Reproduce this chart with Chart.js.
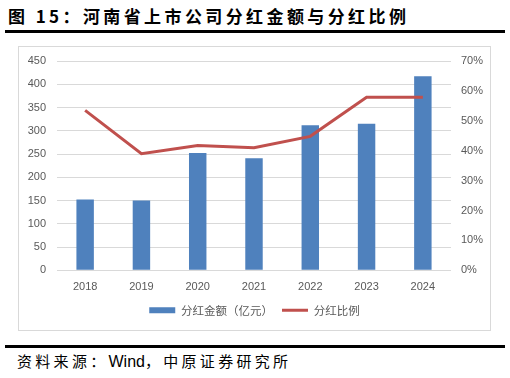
<!DOCTYPE html>
<html>
<head>
<meta charset="utf-8">
<script src="https://cdn.jsdelivr.net/npm/chart.js@4"></script>
<style>
  body { margin: 0; width: 510px; height: 378px; background: #fff; position: relative; overflow: hidden; }
  .title { position: absolute; left: 8px; top: 3px; font: bold 17px "Noto Sans CJK SC", sans-serif; letter-spacing: 3.4px; color: #000; white-space: nowrap; }
  .rule { position: absolute; left: 5px; width: 500px; height: 3px; background: #000; }
  .frame { position: absolute; left: 18px; top: 46px; width: 471px; height: 283px; border: 1px solid #d9d9d9; }
  .source { position: absolute; left: 17px; top: 350px; font: 15px "Noto Sans CJK SC", sans-serif; letter-spacing: 3.3px; color: #000; white-space: nowrap; }
  .source span { font-family: "Liberation Sans", Arial, sans-serif; font-size: 16px; letter-spacing: 0; }
</style>
</head>
<body>
<div class="title">图 15：河南省上市公司分红金额与分红比例</div>
<div class="rule" style="top:30px"></div>
<div class="frame"><canvas id="chart" width="471" height="283"></canvas></div>
<div class="rule" style="top:345px"></div>
<div class="source">资料来源：<span>Wind</span>，中原证券研究所</div>
<script>
// 分红数据
const years = ["2018", "2019", "2020", "2021", "2022", "2023", "2024"];
const dividendAmount = [152, 150, 252, 241, 312, 315, 417];   // 亿元
const dividendRatio = [53.5, 39.0, 41.7, 41.0, 44.8, 57.9, 57.9]; // %

const tickFont = {family: "'Liberation Sans', Arial, sans-serif", size: 11};
const grey = "#595959";

// fixed axis widths, and no extra top/bottom padding from the tick labels
function fixWidth(w) {
    return s => { s.width = w; s.paddingTop = 0; s.paddingBottom = 0; };
}

new Chart(document.getElementById("chart"), {
    type: 'bar',
    data: {
        labels: years,
        datasets: [{
            label: "分红比例",
            type: "line",
            data: dividendRatio,
            yAxisID: "y1",
            borderColor: "#C0504D",
            backgroundColor: "#C0504D",
            borderWidth: 3,
            pointRadius: 0,
            pointStyle: "line",
            tension: 0,
            order: 0
        }, {
            label: "分红金额（亿元）",
            type: "bar",
            data: dividendAmount,
            yAxisID: "y",
            backgroundColor: "#4F81BD",
            borderWidth: 0,
            pointStyle: "rect",
            barPercentage: 0.31,
            categoryPercentage: 1,
            order: 1
        }]
    },
    options: {
        responsive: false,
        animation: false,
        layout: {padding: {top: 14, left: 0, right: 0, bottom: 4}},
        plugins: {
            legend: {
                position: 'bottom',
                reverse: true,
                labels: {
                    usePointStyle: true,
                    pointStyleWidth: 26,
                    boxHeight: 6,
                    padding: 9,
                    color: grey,
                    font: {family: "'Noto Sans CJK SC', sans-serif", size: 11.5}
                }
            },
            tooltip: {enabled: false}
        },
        scales: {
            x: {
                grid: {display: false},
                border: {display: false},
                ticks: {color: grey, font: tickFont, padding: 2}
            },
            y: {
                position: 'left',
                min: 0, max: 450,
                ticks: {stepSize: 50, color: grey, font: tickFont, padding: 11},
                grid: {color: "#d9d9d9", drawTicks: false},
                border: {display: false},
                afterFit: fixWidth(38)
            },
            y1: {
                position: 'right',
                min: 0, max: 70,
                ticks: {stepSize: 10, color: grey, font: tickFont, padding: 10,
                        callback: v => v + "%"},
                grid: {display: false, drawTicks: false},
                border: {display: false},
                afterFit: fixWidth(39)
            }
        }
    }
});
</script>
</body>
</html>
